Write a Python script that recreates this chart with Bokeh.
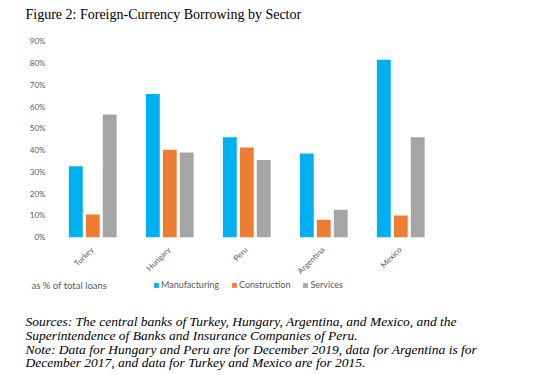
from bokeh.plotting import figure
from bokeh.models import (ColumnDataSource, Range1d, NumeralTickFormatter, Label,
                          Legend, LegendItem, FixedTicker, LinearAxis)
from bokeh.transform import dodge
from bokeh.embed import file_html
from bokeh.resources import INLINE
import math

countries = ["Turkey", "Hungary", "Peru", "Argentina", "Mexico"]
manufacturing = [0.326, 0.658, 0.459, 0.384, 0.815]
construction = [0.104, 0.401, 0.412, 0.080, 0.100]
services = [0.563, 0.389, 0.355, 0.126, 0.459]
series_names = ["Manufacturing", "Construction", "Services"]
series_colors = ["#00B0F0", "#ED7D31", "#A5A5A5"]
y_ticks = [0, 0.1, 0.2, 0.3, 0.4, 0.5, 0.6, 0.7, 0.8, 0.9]

title_text = "Figure 2: Foreign-Currency Borrowing by Sector"
unit_text = "as % of total loans"
note_lines = [
    "Sources: The central banks of Turkey, Hungary, Argentina, and Mexico, and the",
    "Superintendence of Banks and Insurance Companies of Peru.",
    "Note: Data for Hungary and Peru are for December 2019, data for Argentina is for",
    "December 2017, and data for Turkey and Mexico are for 2015.",
]

# ---- layout helpers: canvas pixel -> data coordinate (frame covers whole canvas)
W, H = 542, 370
FRAME_L = 53.0          # canvas x of the left end of the category axis
CAT_W = 77.0            # pixels per category
ZERO_Y = 236.7          # canvas y of 0%
PX_PER_UNIT = 196.0 / 0.9


def dx(X):
    return (X - FRAME_L) / CAT_W


def dy(Y):
    return (ZERO_Y - Y) / PX_PER_UNIT


positions = [i + 0.5 for i in range(len(countries))]
source = ColumnDataSource(data=dict(pos=positions, country=countries,
                                    Manufacturing=manufacturing,
                                    Construction=construction, Services=services))

p = figure(x_range=Range1d(dx(0), dx(W)), y_range=Range1d(dy(H), dy(0)),
           width=W, height=H, output_backend="svg", toolbar_location=None,
           x_axis_type=None, y_axis_type=None,
           min_border=0, min_border_left=0, min_border_right=0,
           min_border_top=0, min_border_bottom=0)
p.outline_line_color = None
p.background_fill_color = "white"
p.border_fill_color = "white"

offsets = [-0.21, 0.01, 0.23]
renderers = []
for name, color, off in zip(series_names, series_colors, offsets):
    r = p.vbar(x=dodge("pos", off), top=name, width=0.18,
               source=source, fill_color=color, line_color=None)
    renderers.append(r)

sans = "Lato"
label_color = "#595959"

# axes placed at fixed data locations inside the canvas
yaxis = LinearAxis(fixed_location=0, ticker=FixedTicker(ticks=y_ticks),
                   formatter=NumeralTickFormatter(format="0%"))
xaxis = LinearAxis(fixed_location=0, ticker=FixedTicker(ticks=positions),
                   major_label_overrides={pos: c for pos, c in zip(positions, countries)})
for ax in (xaxis, yaxis):
    ax.axis_line_color = None
    ax.major_tick_line_color = None
    ax.minor_tick_line_color = None
    ax.major_tick_out = 0
    ax.major_tick_in = 0
    ax.major_label_text_font = sans
    ax.major_label_text_font_size = "8px"
    ax.major_label_text_color = label_color
yaxis.major_label_standoff = 8
xaxis.major_label_orientation = math.pi / 4
xaxis.major_label_standoff = 11
p.add_layout(yaxis, "left")
p.add_layout(xaxis, "below")

p.xgrid.visible = False
p.ygrid.grid_line_color = "#D9D9D9"
p.ygrid.grid_line_width = 1
p.ygrid.ticker = FixedTicker(ticks=y_ticks)
try:
    p.ygrid.cross_bounds = (0, len(countries))
except Exception:
    p.ygrid.visible = False
    p.segment(x0=[0] * len(y_ticks), x1=[len(countries)] * len(y_ticks),
              y0=y_ticks, y1=y_ticks, line_color="#D9D9D9", line_width=1,
              level="underlay")

# texts
p.add_layout(Label(x=dx(25), y=dy(13.5), text=title_text,
                   text_font="Liberation Serif", text_font_size="14px",
                   text_color="#000000", text_baseline="alphabetic"))
p.add_layout(Label(x=dx(31), y=dy(285), text=unit_text,
                   text_font=sans, text_font_size="9.5px", text_color=label_color,
                   text_baseline="middle"))
note_baselines = [321, 335, 348.5, 361.5]
for line, yb in zip(note_lines, note_baselines):
    p.add_layout(Label(x=dx(25), y=dy(yb), text=line,
                       text_font="Liberation Serif", text_font_style="italic",
                       text_font_size="13.5px", text_color="#000000",
                       text_baseline="alphabetic"))

legend = Legend(items=[LegendItem(label=n, renderers=[r]) for n, r in zip(series_names, renderers)],
                orientation="horizontal", location=(153, H - 290),
                glyph_width=6, glyph_height=6, label_standoff=2, spacing=12,
                label_height=10, label_text_font=sans, label_text_font_size="9px",
                label_text_color=label_color, padding=0, margin=0,
                border_line_color=None, background_fill_alpha=0)
p.add_layout(legend, "center")

open("out.html", "w").write(file_html(p, INLINE))
